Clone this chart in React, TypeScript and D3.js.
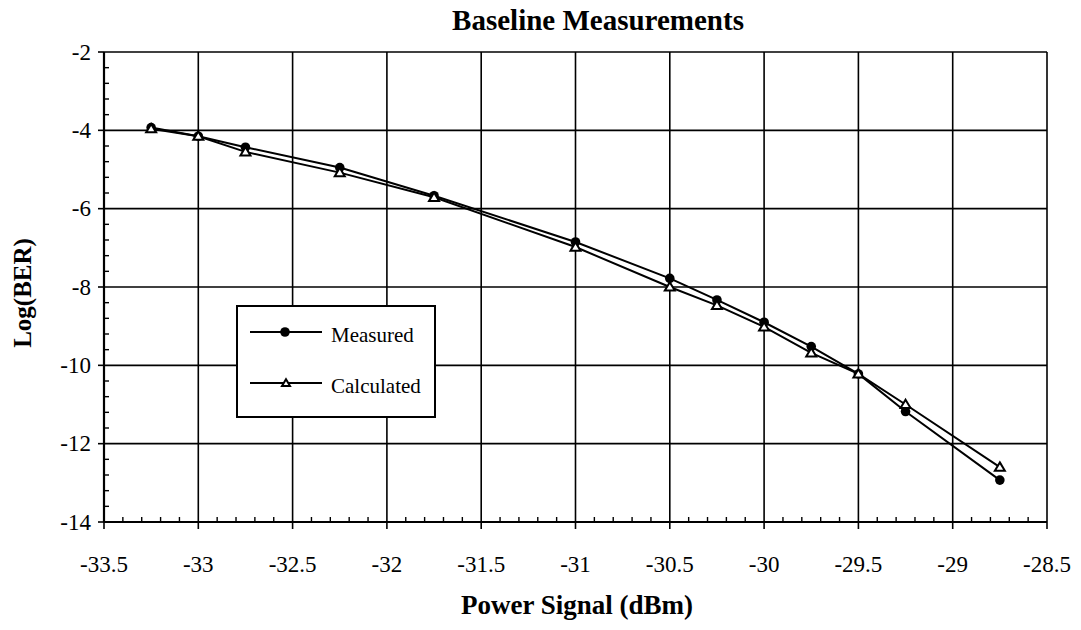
import React from "react";
import * as d3 from "d3";

const powerSignal = [-33.25, -33, -32.75, -32.25, -31.75, -31, -30.5, -30.25, -30, -29.75, -29.5, -29.25, -28.75];
const measured = [-3.93, -4.15, -4.43, -4.95, -5.67, -6.85, -7.78, -8.33, -8.9, -9.52, -10.22, -11.18, -12.93];
const calculated = [-3.96, -4.15, -4.55, -5.08, -5.71, -6.98, -8.0, -8.47, -9.02, -9.68, -10.22, -11.0, -12.6];
const xTicks = [-33.5, -33, -32.5, -32, -31.5, -31, -30.5, -30, -29.5, -29, -28.5];
const yTicks = [-2, -4, -6, -8, -10, -12, -14];
const seriesNames = ["Measured", "Calculated"];

const W = 1081;
const H = 630;
const L = 104, R = 1047, T = 52, B = 522;
const FONT = "'Liberation Serif', 'Times New Roman', serif";

function Triangle({ cx, cy, s = 5 }: { cx: number; cy: number; s?: number }) {
  const h = s * 1.6;
  const p = `M${cx},${cy - h * 0.6} L${cx + s},${cy + h * 0.45} L${cx - s},${cy + h * 0.45} Z`;
  return <path d={p} fill="#fff" stroke="#000" strokeWidth={2} />;
}

export default function App() {
  const x = d3.scaleLinear().domain([-33.5, -28.5]).range([L, R]);
  const y = d3.scaleLinear().domain([-14, -2]).range([B, T]);

  const xMinor = d3.range(-33.5, -28.5 + 1e-9, 0.1).filter((v) => Math.abs(v * 2 - Math.round(v * 2)) > 1e-6);
  const yMinor = d3.range(-14, -2 + 1e-9, 0.4).filter((v) => Math.abs(v / 2 - Math.round(v / 2)) > 1e-6);

  const line = d3
    .line<[number, number]>()
    .x((d) => x(d[0]))
    .y((d) => y(d[1]));

  const mData = powerSignal.map((p, i) => [p, measured[i]] as [number, number]);
  const cData = powerSignal.map((p, i) => [p, calculated[i]] as [number, number]);

  return (
    <svg
      width={W}
      height={H}
      style={{ position: "absolute", left: 0, top: 0, background: "#fff" }}
      fontFamily={FONT}
    >
      <rect x={0} y={0} width={W} height={H} fill="#fff" />
      {/* gridlines */}
      {xTicks.map((t) => (
        <line key={"gx" + t} x1={x(t)} x2={x(t)} y1={T} y2={B} stroke="#000" strokeWidth={1.6} />
      ))}
      {yTicks.map((t) => (
        <line key={"gy" + t} x1={L} x2={R} y1={y(t)} y2={y(t)} stroke="#000" strokeWidth={1.6} />
      ))}
      {/* axes */}
      <line x1={L} x2={L} y1={T} y2={B} stroke="#000" strokeWidth={2.2} />
      <line x1={L} x2={R} y1={B} y2={B} stroke="#000" strokeWidth={2.2} />
      {xMinor.map((t, i) => (
        <line key={"xm" + i} x1={x(t)} x2={x(t)} y1={B} y2={B - 5} stroke="#000" strokeWidth={1.4} />
      ))}
      {yMinor.map((t, i) => (
        <line key={"ym" + i} x1={L} x2={L + 5} y1={y(t)} y2={y(t)} stroke="#000" strokeWidth={1.4} />
      ))}
      {xTicks.map((t) => (
        <line key={"xt" + t} x1={x(t)} x2={x(t)} y1={B} y2={B + 7} stroke="#000" strokeWidth={1.6} />
      ))}
      {yTicks.map((t) => (
        <line key={"yt" + t} x1={L - 6} x2={L} y1={y(t)} y2={y(t)} stroke="#000" strokeWidth={1.6} />
      ))}
      {/* tick labels */}
      {xTicks.map((t) => (
        <text key={"xl" + t} x={x(t)} y={572} fontSize={23} textAnchor="middle" fill="#000">
          {String(t)}
        </text>
      ))}
      {yTicks.map((t) => (
        <text key={"yl" + t} x={91} y={y(t)} fontSize={23} textAnchor="end" dominantBaseline="central" fill="#000">
          {String(t)}
        </text>
      ))}
      {/* series */}
      <path d={line(mData) || ""} fill="none" stroke="#000" strokeWidth={2} />
      <path d={line(cData) || ""} fill="none" stroke="#000" strokeWidth={2} />
      {mData.map((d, i) => (
        <circle key={"mc" + i} cx={x(d[0])} cy={y(d[1])} r={4.8} fill="#000" />
      ))}
      {cData.map((d, i) => (
        <Triangle key={"ct" + i} cx={x(d[0])} cy={y(d[1])} s={5} />
      ))}
      {/* legend */}
      <rect x={237} y={306} width={198} height={111} fill="#fff" stroke="#000" strokeWidth={2} />
      <line x1={250} x2={322} y1={332} y2={332} stroke="#000" strokeWidth={2} />
      <circle cx={285} cy={332} r={4.8} fill="#000" />
      <text x={331} y={342} fontSize={21} fill="#000">{seriesNames[0]}</text>
      <line x1={250} x2={322} y1={383} y2={383} stroke="#000" strokeWidth={2} />
      <Triangle cx={286} cy={383} s={4} />
      <text x={331} y={393} fontSize={21} fill="#000">{seriesNames[1]}</text>
      {/* titles */}
      <text x={598} y={30} fontSize={29} fontWeight="bold" textAnchor="middle" fill="#000">
        Baseline Measurements
      </text>
      <text x={577} y={614} fontSize={27} fontWeight="bold" textAnchor="middle" fill="#000">
        Power Signal (dBm)
      </text>
      <text
        transform="translate(31,293) rotate(-90)"
        fontSize={25}
        fontWeight="bold"
        textAnchor="middle"
        fill="#000"
      >
        Log(BER)
      </text>
    </svg>
  );
}
